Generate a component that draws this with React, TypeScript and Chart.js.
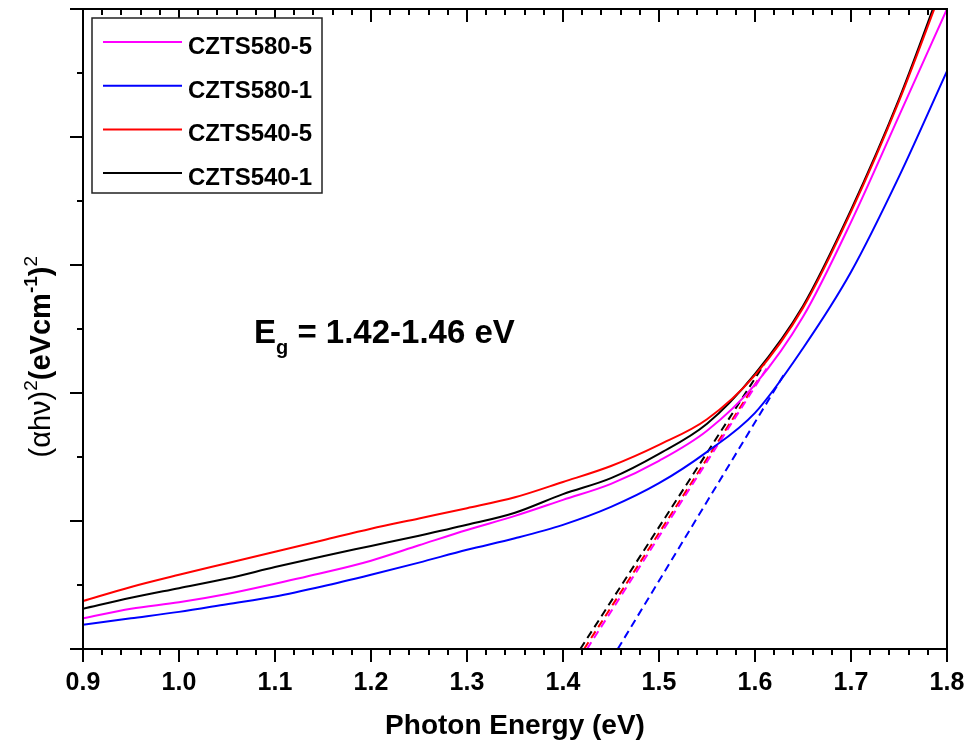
import React, { useEffect, useRef } from 'react';
import { Chart, registerables } from 'chart.js';

Chart.register(...registerables);

// ---- data ----
const energy = [0.9, 0.95, 1.0, 1.05, 1.1, 1.15, 1.2, 1.25, 1.3, 1.35, 1.4, 1.45, 1.5, 1.55, 1.6, 1.65, 1.7, 1.75, 1.8];
const czts580_5 = [0.48, 0.63, 0.73, 0.86, 1.02, 1.19, 1.38, 1.62, 1.86, 2.08, 2.33, 2.58, 2.94, 3.41, 4.13, 5.19, 6.67, 8.33, 10.0];
const czts580_1 = [0.38, 0.48, 0.58, 0.7, 0.82, 0.98, 1.16, 1.35, 1.55, 1.73, 1.94, 2.22, 2.59, 3.08, 3.69, 4.7, 5.89, 7.38, 9.03];
const czts540_5 = [0.75, 0.97, 1.16, 1.34, 1.52, 1.7, 1.88, 2.04, 2.2, 2.37, 2.61, 2.86, 3.19, 3.59, 4.28, 5.33, 6.83, 8.56, 10.53];
const czts540_1 = [0.63, 0.8, 0.95, 1.1, 1.28, 1.45, 1.61, 1.77, 1.94, 2.13, 2.42, 2.67, 3.05, 3.52, 4.3, 5.36, 6.86, 8.59, 10.6];

const seriesNames = ['CZTS580-5', 'CZTS580-1', 'CZTS540-5', 'CZTS540-1'];
const seriesColors = ['#ff00ff', '#0000ff', '#ff0000', '#000000'];
const seriesValues = [czts580_5, czts580_1, czts540_5, czts540_1];

// linear (Tauc) fits: x-intercept, end energy, end value
const fitStartE = [1.425, 1.457, 1.422, 1.418];
const fitEndE = [1.615, 1.631, 1.605, 1.61];
const fitEndY = [4.45, 4.31, 4.25, 4.46];

const xMin = 0.9;
const xMax = 1.8;
const xStep = 0.1;
const yMin = 0;
const yMax = 10;
const annotationText = ' = 1.42-1.46 eV';
const xTitle = 'Photon Energy (eV)';

const FONT = "'Liberation Sans', Arial, Helvetica, sans-serif";

const framePlugin = {
  id: 'frame',
  afterDatasetsDraw(chart: any) {
    const ctx = chart.ctx as CanvasRenderingContext2D;
    const { left, right, top, bottom } = chart.chartArea;
    const xs = chart.scales.x;
    const ys = chart.scales.y;
    ctx.save();
    ctx.strokeStyle = '#000';
    ctx.lineWidth = 2;
    ctx.lineCap = 'butt';
    // frame
    ctx.beginPath();
    ctx.moveTo(left, top);
    ctx.lineTo(right, top);
    ctx.lineTo(right, bottom);
    ctx.lineTo(left, bottom);
    ctx.closePath();
    ctx.stroke();
    // x ticks (bottom outward, top inward)
    for (let i = 0; i <= 45; i++) {
      const v = xMin + i * 0.02;
      const px = Math.round(xs.getPixelForValue(v));
      const len = i % 5 === 0 ? 13 : 6;
      ctx.beginPath();
      ctx.moveTo(px, bottom);
      ctx.lineTo(px, bottom + len);
      ctx.moveTo(px, top);
      ctx.lineTo(px, top + len);
      ctx.stroke();
    }
    // y ticks (left outward)
    for (let v = yMin; v <= yMax; v += 1) {
      const py = Math.round(ys.getPixelForValue(v));
      const len = v % 2 === 0 ? 13 : 6;
      ctx.beginPath();
      ctx.moveTo(left, py);
      ctx.lineTo(left - len, py);
      ctx.stroke();
    }

    // legend
    const lx = 92, ly = 18, lw = 230, lh = 175;
    ctx.lineWidth = 1.5;
    ctx.strokeStyle = '#222';
    ctx.fillStyle = '#fff';
    ctx.fillRect(lx, ly, lw, lh);
    ctx.strokeRect(lx, ly, lw, lh);
    ctx.font = `bold 24px ${FONT}`;
    ctx.textBaseline = 'alphabetic';
    ctx.textAlign = 'left';
    for (let i = 0; i < seriesNames.length; i++) {
      const yLine = 42 + i * 43.7;
      ctx.strokeStyle = seriesColors[i];
      ctx.lineWidth = 2;
      ctx.beginPath();
      ctx.moveTo(103, yLine);
      ctx.lineTo(182, yLine);
      ctx.stroke();
      ctx.fillStyle = '#000';
      ctx.fillText(seriesNames[i], 188, yLine + 12);
    }

    // annotation Eg = ...
    ctx.fillStyle = '#000';
    ctx.font = `bold 33px ${FONT}`;
    ctx.fillText('E', 254, 343);
    const eW = ctx.measureText('E').width;
    ctx.font = `bold 20px ${FONT}`;
    ctx.fillText('g', 254 + eW, 354);
    const gW = ctx.measureText('g').width;
    ctx.font = `bold 33px ${FONT}`;
    ctx.fillText(annotationText, 254 + eW + gW, 343);

    // y title (rotated)
    const parts = [
      { t: '(\u03b1h\u03bd)', f: `29px ${FONT}`, dy: 0 },
      { t: '2', f: `19px ${FONT}`, dy: -13 },
      { t: '(eVcm', f: `bold 29px ${FONT}`, dy: 0 },
      { t: '-1', f: `bold 19px ${FONT}`, dy: -13 },
      { t: ')', f: `bold 29px ${FONT}`, dy: 0 },
      { t: '2', f: `19px ${FONT}`, dy: -13 },
    ];
    let total = 0;
    const widths: number[] = [];
    for (const p of parts) {
      ctx.font = p.f;
      const w = ctx.measureText(p.t).width;
      widths.push(w);
      total += w;
    }
    ctx.translate(50, 256 + total);
    ctx.rotate(-Math.PI / 2);
    let cx = 0;
    parts.forEach((p, i) => {
      ctx.font = p.f;
      ctx.fillText(p.t, cx, p.dy);
      cx += widths[i];
    });
    ctx.restore();
  },
};

export default function App() {
  const canvasRef = useRef<HTMLCanvasElement | null>(null);

  useEffect(() => {
    document.body.style.margin = '0';
    document.body.style.overflow = 'hidden';
    const canvas = canvasRef.current;
    if (!canvas) return;

    const curveSets = seriesNames.map((name, i) => ({
      label: name,
      data: energy.map((e, k) => ({ x: e, y: seriesValues[i][k] })),
      borderColor: seriesColors[i],
      backgroundColor: seriesColors[i],
      borderWidth: 2,
      pointRadius: 0,
      tension: 0.4,
      cubicInterpolationMode: 'monotone' as const,
      fill: false,
    }));
    const fitSets = seriesNames.map((name, i) => ({
      label: name + ' fit',
      data: [
        { x: fitStartE[i], y: 0 },
        { x: fitEndE[i], y: fitEndY[i] },
      ],
      borderColor: seriesColors[i],
      borderWidth: 2,
      borderDash: [8, 5],
      pointRadius: 0,
      fill: false,
    }));

    const chart = new Chart(canvas, {
      type: 'line',
      data: { datasets: [curveSets[2], curveSets[3], curveSets[0], curveSets[1], ...fitSets] as any },
      options: {
        animation: false,
        responsive: false,
        layout: { padding: { top: 9, right: 25, left: 0, bottom: 0 } },
        plugins: { legend: { display: false }, tooltip: { enabled: false } },
        scales: {
          x: {
            type: 'linear',
            min: xMin,
            max: xMax,
            grid: { display: false, drawTicks: false },
            border: { display: false },
            ticks: {
              stepSize: xStep,
              autoSkip: false,
              maxRotation: 0,
              padding: 19,
              color: '#000',
              font: { family: FONT, size: 25, weight: 'bold' },
              callback: (v: any) => Number(v).toFixed(1),
            },
            title: {
              display: true,
              text: xTitle,
              color: '#000',
              font: { family: FONT, size: 28, weight: 'bold' },
            },
            afterFit: (s: any) => {
              s.height = 98;
              s.paddingLeft = 0;
              s.paddingRight = 0;
            },
          },
          y: {
            type: 'linear',
            min: yMin,
            max: yMax,
            grid: { display: false, drawTicks: false },
            border: { display: false },
            ticks: { display: false, stepSize: 2 },
            afterFit: (s: any) => {
              s.width = 83;
              s.paddingTop = 0;
              s.paddingBottom = 0;
            },
          },
        },
      },
      plugins: [framePlugin],
    });
    return () => chart.destroy();
  }, []);

  return (
    <div style={{ width: 972, height: 747, background: '#fff' }}>
      <canvas ref={canvasRef} width={972} height={747} />
    </div>
  );
}
